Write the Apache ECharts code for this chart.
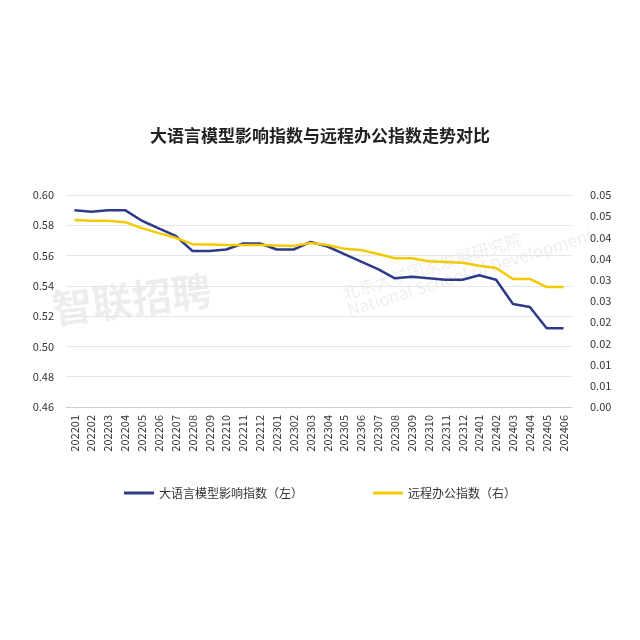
<!DOCTYPE html>
<html><head><meta charset="utf-8">
<script src="https://cdn.jsdelivr.net/npm/echarts@6/dist/echarts.min.js"></script>
<style>html,body{margin:0;background:#fff}#c{width:640px;height:640px}</style>
</head><body><div id="c"></div>
<script>
var months = ["202201","202202","202203","202204","202205","202206","202207","202208","202209","202210","202211","202212","202301","202302","202303","202304","202305","202306","202307","202308","202309","202310","202311","202312","202401","202402","202403","202404","202405","202406"];
var llmIndex = [0.590,0.589,0.590,0.590,0.583,0.578,0.573,0.563,0.563,0.564,0.568,0.568,0.564,0.564,0.569,0.566,0.561,0.556,0.551,0.545,0.546,0.545,0.544,0.544,0.547,0.544,0.528,0.526,0.512,0.512];
var remoteIndex = [0.0441,0.0439,0.0439,0.0436,0.0422,0.0410,0.0399,0.0384,0.0383,0.0382,0.0382,0.0382,0.0381,0.0380,0.0387,0.0382,0.0373,0.0370,0.0361,0.0351,0.0351,0.0344,0.0342,0.0340,0.0333,0.0328,0.0302,0.0302,0.0283,0.0283];

var chart = echarts.init(document.getElementById("c"));
var font = "Noto Sans CJK SC";
chart.setOption({
    textStyle: {fontFamily: font},
    title: {text: "大语言模型影响指数与远程办公指数走势对比", left: "center", top: 122,
        textStyle: {fontSize: 17, fontWeight: "bold", color: "#222", fontFamily: font}},
    graphic: [
        {type: "text", left: 50, top: 270, rotation: 0.12, style: {text: "智联招聘", fontSize: 40, fontWeight: "bold", fill: "rgba(0,0,0,0.07)", fontFamily: font}},
        {type: "text", left: 340, top: 210, rotation: 0.3, style: {text: "北京大学国家发展研究院\nNational School of Development", fontSize: 17, fill: "rgba(0,0,0,0.07)", fontFamily: font}}
    ],
    legend: {bottom: 136, itemWidth: 30, itemHeight: 3, itemGap: 70, icon: "rect",
        textStyle: {fontSize: 12, color: "#333"},
        data: ["大语言模型影响指数（左）", "远程办公指数（右）"]},
    grid: {left: 66, right: 68, top: 195, bottom: 233, containLabel: false},
    xAxis: {type: "category", data: months, boundaryGap: true,
        axisLine: {lineStyle: {color: "#ccc"}}, axisTick: {show: false},
        axisLabel: {rotate: 90, interval: 0, color: "#333", fontSize: 11}},
    yAxis: [
        {type: "value", min: 0.46, max: 0.60, interval: 0.02,
            axisLabel: {color: "#333", fontSize: 11, margin: 12, formatter: function (v) { return v.toFixed(2); }},
            splitLine: {lineStyle: {color: "#e6e6e6"}}},
        {type: "value", min: 0, max: 0.05, interval: 0.005, splitLine: {show: false},
            axisLabel: {color: "#333", fontSize: 11, margin: 18, formatter: function (v) { return (Math.round(v * 100 + 1e-9) / 100).toFixed(2); }}}
    ],
    series: [
        {name: "大语言模型影响指数（左）", type: "line", data: llmIndex, yAxisIndex: 0, symbol: "none",
            lineStyle: {color: "#2e3a87", width: 2.5}, itemStyle: {color: "#2e3a87"}},
        {name: "远程办公指数（右）", type: "line", data: remoteIndex, yAxisIndex: 1, symbol: "none",
            lineStyle: {color: "#f3c900", width: 2.5}, itemStyle: {color: "#f3c900"}}
    ]
});
</script></body></html>
